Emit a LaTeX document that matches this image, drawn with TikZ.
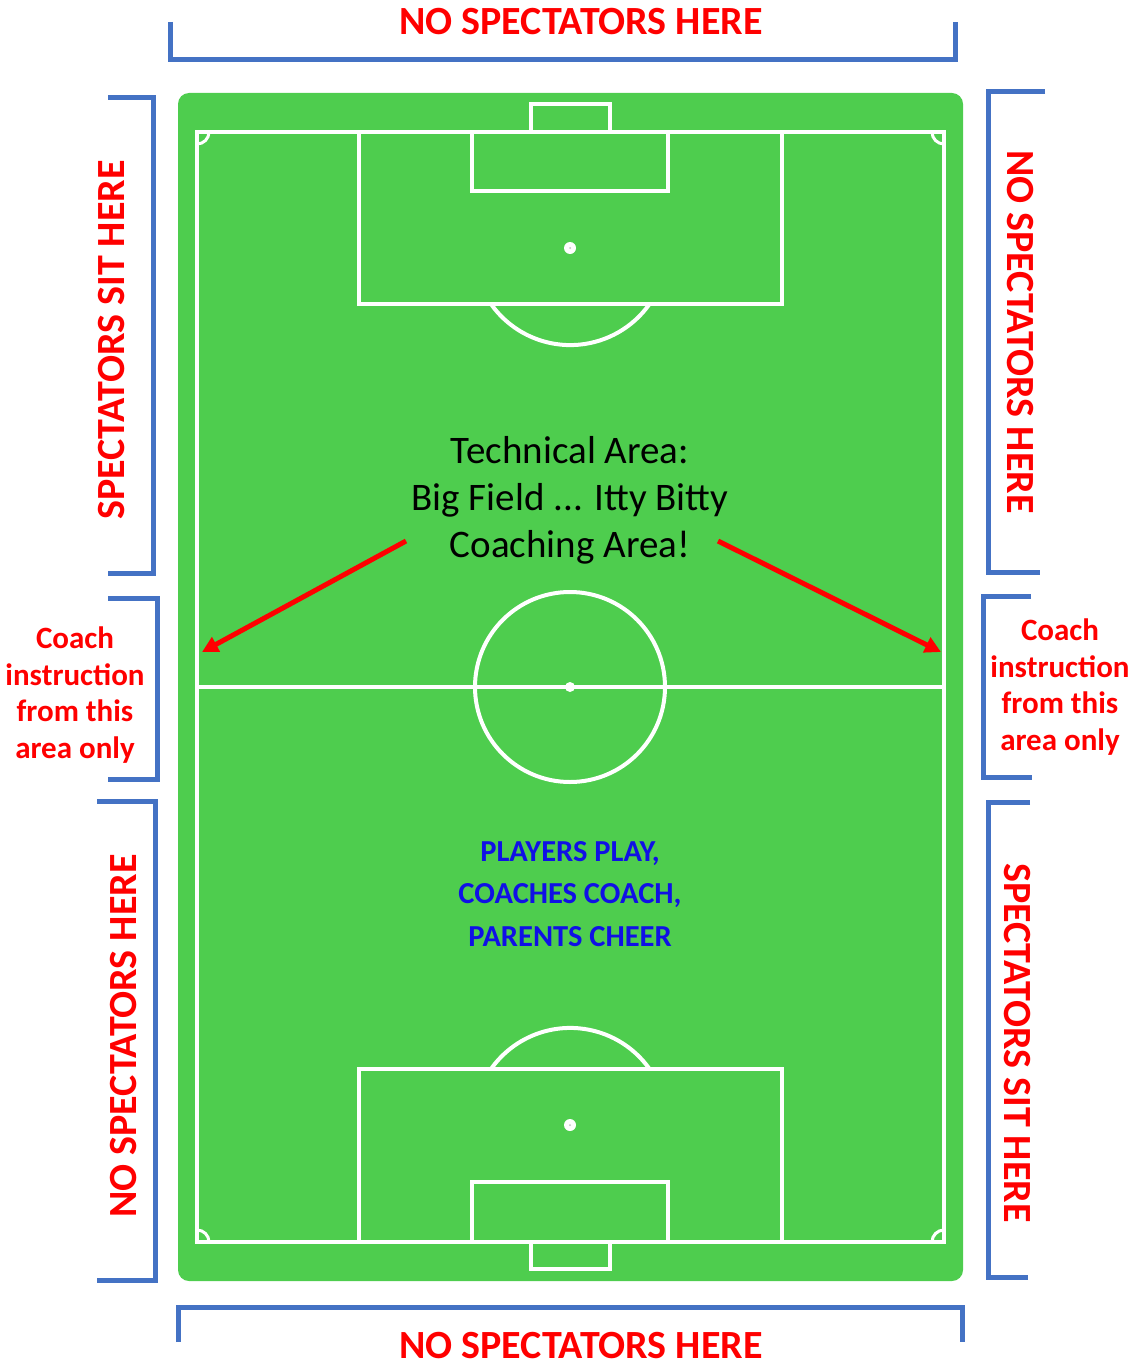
\documentclass[tikz,border=0pt]{standalone}
\usepackage{fontspec}
\setmainfont{Carlito}
\usetikzlibrary{arrows.meta}
\definecolor{pitch}{RGB}{78,205,78}
\definecolor{brk}{RGB}{68,114,196}
\definecolor{redt}{RGB}{255,0,0}
\definecolor{bluet}{RGB}{16,16,230}
\tikzset{
  wline/.style={draw=white,line width=4pt},
  cline/.style={draw=white,line width=3pt},
  bracket/.style={draw=brk,line width=5pt},
  bigred/.style={text=redt,font=\bfseries\fontsize{40}{48}\selectfont,inner sep=0pt},
  coachtxt/.style={text=redt,font=\bfseries\fontsize{31}{36.5}\selectfont,align=center,inner sep=0pt},
  techtxt/.style={text=black,font=\fontsize{39}{47}\selectfont,align=center,inner sep=0pt},
  playtxt/.style={text=bluet,font=\bfseries\fontsize{30.5}{42.5}\selectfont,align=center,inner sep=0pt},
  redarrow/.style={draw=redt,line width=5pt,-{Triangle[length=16pt,width=16pt]}}
}
\begin{document}
\begin{tikzpicture}[x=1pt,y=-1pt]
\useasboundingbox (0,0) rectangle (1136,1370);
% pitch
\fill[pitch,rounded corners=11pt] (178,93) rectangle (963,1281);
\draw[wline] (197,132) rectangle (944,1242);
\draw[wline] (197,687) -- (944,687);
% top end
\draw[wline] (359,132) rectangle (782,304);
\draw[wline] (472,132) rectangle (668,191);
\draw[wline] (531,132) -- (531,104) -- (610,104) -- (610,132);
\draw[wline] (491,304) arc[start angle=144.8,end angle=35.2,radius=97];
\fill[white] (570,248) circle (6pt);
\fill[black!25] (570,248) circle (1pt);
% bottom end
\draw[wline] (359,1069) rectangle (782,1242);
\draw[wline] (472,1182) rectangle (668,1242);
\draw[wline] (531,1242) -- (531,1269) -- (610,1269) -- (610,1242);
\draw[wline] (491,1069) arc[start angle=215.2,end angle=324.8,radius=97];
\fill[white] (570,1125) circle (6pt);
\fill[black!25] (570,1125) circle (1pt);
% centre
\draw[wline] (570,687) circle (95pt);
\fill[white] (570,687) circle (5pt);
% corner arcs
\draw[cline] (197,144) arc[start angle=90,end angle=0,radius=12];
\draw[cline] (932,132) arc[start angle=180,end angle=90,radius=12];
\draw[cline] (209,1242) arc[start angle=0,end angle=-90,radius=12];
\draw[cline] (944,1230) arc[start angle=-90,end angle=-180,radius=12];
% brackets
\draw[bracket] (170,22) -- (170,60) -- (955,60) -- (955,22);
\draw[bracket] (178,1342) -- (178,1307) -- (962,1307) -- (962,1342);
\draw[bracket] (108,98) -- (153,98) -- (153,573) -- (108,573);
\draw[bracket] (108,598) -- (157,598) -- (157,779) -- (108,779);
\draw[bracket] (97,801) -- (155,801) -- (155,1280) -- (97,1280);
\draw[bracket] (1045,92) -- (988,92) -- (988,572) -- (1040,572);
\draw[bracket] (1031,596) -- (983,596) -- (983,777) -- (1032,777);
\draw[bracket] (1030,802) -- (988,802) -- (988,1277) -- (1028,1277);
% big labels
\node[bigred] (ttop) at (581,22) {NO SPECTATORS HERE};
\node[bigred] (tbot) at (581,1346) {NO SPECTATORS HERE};
\node[bigred,rotate=90] (tl1) at (112,340) {SPECTATORS SIT HERE};
\node[bigred,rotate=-90] (tr1) at (1020,332) {NO SPECTATORS HERE};
\node[bigred,rotate=90] (tl2) at (124,1036) {NO SPECTATORS HERE};
\node[bigred,rotate=-90] (tr2) at (1017,1043) {SPECTATORS SIT HERE};
% coach labels
\node[coachtxt] (cl) at (75,695) {Coach\\instruction\\from this\\area only};
\node[coachtxt] (cr) at (1060,687) {Coach\\instruction\\from this\\area only};
% centre texts
\node[techtxt] (tech) at (570,500) {Technical Area:\\Big Field ... Itty Bitty\\Coaching Area!};
\node[playtxt] (play) at (570,894) {PLAYERS PLAY,\\COACHES COACH,\\PARENTS CHEER};
% arrows
\coordinate (a1s) at (406,541);
\coordinate (a1e) at (202,652);
\coordinate (a2s) at (718,541);
\coordinate (a2e) at (941,652);
\draw[redarrow] (a1s) -- (a1e);
\draw[redarrow] (a2s) -- (a2e);
\end{tikzpicture}
\end{document}
